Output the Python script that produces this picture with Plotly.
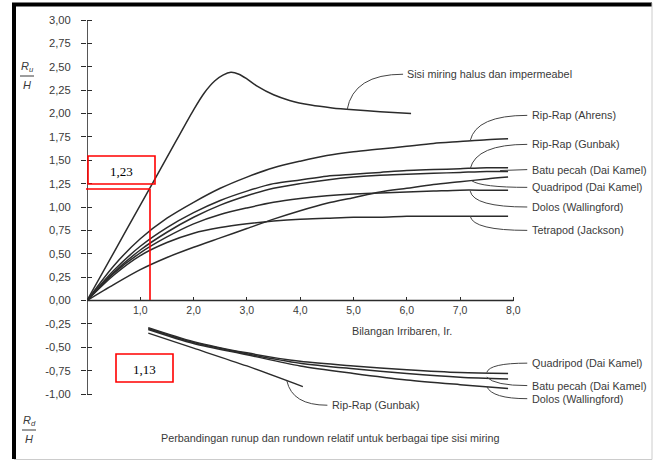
import plotly.graph_objects as go

# ---------------- data ----------------
X_RUNUP = [0, 0.5, 1, 1.5, 2, 2.5, 3, 3.5, 4, 4.5, 5, 5.5, 6, 6.5, 7, 7.5, 7.9]
RU_AHRENS = [0, 0.37, 0.66, 0.88, 1.05, 1.20, 1.32, 1.42, 1.49, 1.55, 1.59, 1.62, 1.65, 1.68, 1.70, 1.72, 1.73]
RU_GUNBAK = [0, 0.32, 0.58, 0.78, 0.94, 1.07, 1.17, 1.25, 1.29, 1.33, 1.35, 1.37, 1.39, 1.40, 1.41, 1.42, 1.42]
RU_BATU = [0, 0.30, 0.54, 0.73, 0.89, 1.02, 1.12, 1.20, 1.25, 1.29, 1.32, 1.34, 1.35, 1.36, 1.37, 1.38, 1.38]
RU_QUADRIPOD = [0, 0.17, 0.33, 0.46, 0.57, 0.67, 0.77, 0.87, 0.96, 1.04, 1.10, 1.16, 1.20, 1.24, 1.27, 1.30, 1.32]
RU_DOLOS = [0, 0.29, 0.51, 0.68, 0.82, 0.92, 0.99, 1.05, 1.09, 1.12, 1.14, 1.15, 1.16, 1.17, 1.18, 1.18, 1.18]
RU_TETRAPOD = [0, 0.27, 0.48, 0.62, 0.72, 0.78, 0.82, 0.85, 0.87, 0.88, 0.89, 0.89, 0.90, 0.90, 0.90, 0.90, 0.90]

X_SMOOTH = [0, 0.5, 1.0, 1.5, 2.0, 2.2, 2.4, 2.55, 2.7, 2.85, 3.0, 3.2, 3.5, 3.8, 4.2, 4.6, 5.0, 5.5, 6.08]
RU_SMOOTH = [0, 0.51, 1.02, 1.53, 2.04, 2.22, 2.35, 2.41, 2.44, 2.42, 2.37, 2.29, 2.20, 2.14, 2.09, 2.06, 2.04, 2.02, 2.00]

X_RUNDOWN = [1.15, 2, 3, 4, 5, 6, 7, 7.9]
RD_QUADRIPOD = [-0.29, -0.44, -0.56, -0.65, -0.70, -0.74, -0.77, -0.78]
RD_BATU = [-0.30, -0.45, -0.57, -0.67, -0.73, -0.78, -0.82, -0.84]
RD_DOLOS = [-0.31, -0.46, -0.58, -0.70, -0.78, -0.85, -0.90, -0.94]
X_RD_GUNBAK = [1.15, 2, 3, 4.05]
RD_GUNBAK = [-0.35, -0.51, -0.70, -0.92]

X_TICKS = [1, 2, 3, 4, 5, 6, 7, 8]
X_TICKTEXT = ["1,0", "2,0", "3,0", "4,0", "5,0", "6,0", "7,0", "8,0"]
Y_TICKS = [-1.0, -0.75, -0.5, -0.25, 0, 0.25, 0.5, 0.75, 1.0, 1.25, 1.5, 1.75, 2.0, 2.25, 2.5, 2.75, 3.0]
Y_TICKTEXT = ["-1,00", "-0,75", "-0,50", "-0,25", "0,00", "0,25", "0,50", "0,75", "1,00",
              "1,25", "1,50", "1,75", "2,00", "2,25", "2,50", "2,75", "3,00"]

# labels: (text, x, y)
RIGHT_LABELS = [
    ("Sisi miring halus dan impermeabel", 5.97, 2.42),
    ("Rip-Rap (Ahrens)", 8.31, 1.98),
    ("Rip-Rap (Gunbak)", 8.31, 1.67),
    ("Batu pecah (Dai Kamel)", 8.31, 1.40),
    ("Quadripod (Dai Kamel)", 8.31, 1.21),
    ("Dolos (Wallingford)", 8.31, 1.00),
    ("Tetrapod (Jackson)", 8.31, 0.75),
    ("Quadripod (Dai Kamel)", 8.31, -0.67),
    ("Batu pecah (Dai Kamel)", 8.31, -0.91),
    ("Dolos (Wallingford)", 8.31, -1.05),
    ("Rip-Rap (Gunbak)", 4.56, -1.12),
]

# leader paths (start on curve -> label)
LEADERS = [
    "M 4.88,2.04 Q 5.0,2.42 5.93,2.42",
    "M 7.19,1.71 Q 7.3,1.98 8.26,1.98",
    "M 7.19,1.41 Q 7.3,1.67 8.26,1.67",
    "M 7.75,1.39 L 8.26,1.40",
    "M 7.22,1.28 Q 7.4,1.21 8.26,1.21",
    "M 7.19,1.17 Q 7.25,1.00 8.26,1.00",
    "M 7.19,0.90 Q 7.25,0.75 8.26,0.75",
    "M 7.50,-0.77 Q 7.55,-0.67 8.26,-0.67",
    "M 7.50,-0.82 Q 7.65,-0.91 8.26,-0.91",
    "M 7.50,-0.92 Q 7.6,-1.05 8.26,-1.05",
    "M 3.75,-0.86 Q 3.85,-1.12 4.51,-1.12",
]

# ---------------- geometry ----------------
W, H = 653, 461
ML, MR, MT, MB = 87, 8, 15, 11
PX_X = 53.3   # px per x unit
PX_Y = 93.5   # px per y unit
XMAX = (W - ML - MR) / PX_X
YMAX = 3.0 + 5 / PX_Y
YMIN = YMAX - (H - MT - MB) / PX_Y
PW, PH = W - ML - MR, H - MT - MB


def px(xp):
    return (xp - ML) / PW


def py(yp):
    return (H - MB - yp) / PH


LINE_C = "#2b2b2b"
TEXT_C = "#3a3a3a"
FONT = "Liberation Sans, Arial, sans-serif"
SERIF = "Liberation Serif, Times New Roman, serif"
LBL = 10.8

fig = go.Figure()

runup = [RU_AHRENS, RU_GUNBAK, RU_BATU, RU_QUADRIPOD, RU_DOLOS, RU_TETRAPOD]
for ys in runup:
    fig.add_trace(go.Scatter(x=X_RUNUP, y=ys, mode="lines",
                             line=dict(color=LINE_C, width=1.5, shape="spline", smoothing=0.8),
                             showlegend=False, hoverinfo="skip"))
fig.add_trace(go.Scatter(x=X_SMOOTH, y=RU_SMOOTH, mode="lines",
                         line=dict(color=LINE_C, width=1.5, shape="spline", smoothing=0.8),
                         showlegend=False, hoverinfo="skip"))
for ys in [RD_QUADRIPOD, RD_BATU, RD_DOLOS]:
    fig.add_trace(go.Scatter(x=X_RUNDOWN, y=ys, mode="lines",
                             line=dict(color=LINE_C, width=1.5, shape="spline", smoothing=0.8),
                             showlegend=False, hoverinfo="skip"))
fig.add_trace(go.Scatter(x=X_RD_GUNBAK, y=RD_GUNBAK, mode="lines",
                         line=dict(color=LINE_C, width=1.3, shape="spline", smoothing=0.8),
                         showlegend=False, hoverinfo="skip"))
# invisible trace for the mirrored tick axis
fig.add_trace(go.Scatter(x=[0], y=[0], yaxis="y2", mode="markers", marker=dict(opacity=0),
                         showlegend=False, hoverinfo="skip"))

shapes = []
# axis lines
shapes.append(dict(type="line", xref="x", yref="y", x0=0, x1=X_TICKS[-1], y0=0, y1=0,
                   line=dict(color=LINE_C, width=1.6)))
shapes.append(dict(type="line", xref="x", yref="y", x0=0, x1=0, y0=Y_TICKS[0], y1=Y_TICKS[-1],
                   line=dict(color=LINE_C, width=1.6)))
# leaders
for p in LEADERS:
    shapes.append(dict(type="path", xref="x", yref="y", path=p, line=dict(color="#444", width=1)))
# red overlay boxes
RED = "#ff0000"
shapes.append(dict(type="rect", xref="paper", yref="paper", x0=px(88), x1=px(155), y0=py(184), y1=py(156),
                   line=dict(color=RED, width=1.6)))
shapes.append(dict(type="line", xref="paper", yref="paper", x0=px(86), x1=px(150), y0=py(189), y1=py(189),
                   line=dict(color=RED, width=1.6)))
shapes.append(dict(type="line", xref="paper", yref="paper", x0=px(150), x1=px(150), y0=py(189), y1=py(300),
                   line=dict(color=RED, width=1.6)))
shapes.append(dict(type="rect", xref="paper", yref="paper", x0=px(116), x1=px(173), y0=py(382), y1=py(354),
                   line=dict(color=RED, width=1.6)))
# frame
shapes.append(dict(type="line", xref="paper", yref="paper", x0=px(12), x1=px(652), y0=py(4.5), y1=py(4.5),
                   line=dict(color="#000", width=4)))
shapes.append(dict(type="line", xref="paper", yref="paper", x0=px(14), x1=px(14), y0=py(3), y1=py(459),
                   line=dict(color="#000", width=4)))
shapes.append(dict(type="line", xref="paper", yref="paper", x0=px(14), x1=px(652), y0=py(459.5), y1=py(459.5),
                   line=dict(color="#cccccc", width=1)))
shapes.append(dict(type="line", xref="paper", yref="paper", x0=px(652), x1=px(652), y0=py(3), y1=py(459.5),
                   line=dict(color="#cccccc", width=1)))
# fraction bars for axis labels
shapes.append(dict(type="line", xref="paper", yref="paper", x0=px(20), x1=px(34), y0=py(76), y1=py(76),
                   line=dict(color=TEXT_C, width=1)))
shapes.append(dict(type="line", xref="paper", yref="paper", x0=px(22), x1=px(36), y0=py(430), y1=py(430),
                   line=dict(color=TEXT_C, width=1)))

annotations = []
for t, x, y in RIGHT_LABELS:
    annotations.append(dict(text=t, x=x, y=y, xref="x", yref="y", xanchor="left", yanchor="middle",
                            showarrow=False, font=dict(family=FONT, size=LBL, color=TEXT_C)))


def pann(text, xp, yp, size=LBL, family=FONT, color=TEXT_C, yanchor="middle"):
    annotations.append(dict(text=text, x=px(xp), y=py(yp), xref="paper", yref="paper",
                            xanchor="center", yanchor=yanchor, showarrow=False,
                            font=dict(family=family, size=size, color=color)))


pann("Bilangan Irribaren, Ir.", 402, 331)
pann("Perbandingan runup dan rundown relatif untuk berbagai tipe sisi miring", 330, 438)
pann("<i>R<sub>u</sub></i>", 27, 76, size=11, yanchor="bottom")
pann("<i>H</i>", 27, 77, size=11, yanchor="top")
pann("<i>R<sub>d</sub></i>", 29, 430, size=11, yanchor="bottom")
pann("<i>H</i>", 29, 431, size=11, yanchor="top")
pann("1,23", 121.5, 171, size=13, family=SERIF, color="#000")
pann("1,13", 144.5, 369, size=13, family=SERIF, color="#000")

fig.update_layout(
    width=W, height=H,
    margin=dict(l=ML, r=MR, t=MT, b=MB, pad=0),
    paper_bgcolor="white", plot_bgcolor="white",
    xaxis=dict(range=[0, XMAX], showgrid=False, zeroline=False, showline=False,
               tickvals=X_TICKS, ticktext=X_TICKTEXT, ticks="inside", ticklen=4, tickwidth=1.2, tickcolor=LINE_C,
               anchor="free", position=(0 - YMIN) / (YMAX - YMIN), ticklabelstandoff=2,
               tickfont=dict(family=FONT, size=10.5, color=TEXT_C)),
    yaxis=dict(range=[YMIN, YMAX], showgrid=False, zeroline=False, showline=False,
               tickvals=Y_TICKS, ticktext=Y_TICKTEXT, ticks="outside", ticklen=5, tickwidth=1.2, tickcolor=LINE_C,
               ticklabelstandoff=8, tickfont=dict(family=FONT, size=11.2, color=TEXT_C)),
    yaxis2=dict(range=[YMIN, YMAX], overlaying="y", anchor="x", side="left", showgrid=False, zeroline=False,
                showline=False, tickvals=Y_TICKS, ticks="inside", ticklen=5, tickwidth=1.2, tickcolor=LINE_C,
                showticklabels=False),
    shapes=shapes,
    annotations=annotations,
)

fig.write_html("out.html", config={"displayModeBar": False},
               post_script="document.body.style.margin='0px';document.body.style.padding='0px';")
